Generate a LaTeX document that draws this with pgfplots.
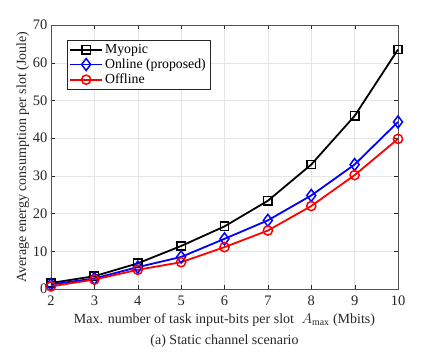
\documentclass[border=0pt]{standalone}
\usepackage{pgfplots}
\pgfplotsset{compat=1.18}
\usepackage{fontspec}
\setmainfont{Liberation Serif}
\definecolor{axgray}{RGB}{38,38,38}
\begin{document}
\begin{tikzpicture}
\begin{axis}[
  scale only axis,
  width=347pt, height=264pt,
  xmin=2, xmax=10, ymin=0, ymax=70,
  xtick={2,...,10}, ytick={0,10,...,70},
  grid=major,
  major grid style={gray!20},
  tick align=inside,
  axis line style={axgray!80},
  tick style={axgray},
  ticklabel style={font=\fontsize{14.5}{16}\selectfont, text=axgray},
  xticklabel style={yshift=-3pt},
  /pgf/number format/assume math mode=true,
  label style={font=\fontsize{14}{16}\selectfont, text=axgray},
  xlabel={Max. number of task input-bits per slot $\;A_{\max}$ (Mbits)\\[5pt](a) Static channel scenario},
  xlabel style={align=center, yshift=-1pt},
  ylabel={Average energy consumption per slot (Joule)},
  ylabel style={yshift=-3pt},
  legend cell align=left,
  legend style={at={(0.046,0.943)}, anchor=north west, draw=axgray, line width=0.6pt,
    font=\fontsize{13.8}{15}\selectfont, inner sep=2pt, row sep=0pt},
  legend image code/.code={\draw[mark repeat=2,mark phase=2] plot coordinates {(0pt,0pt) (16pt,0pt) (32pt,0pt)};},
  every axis plot/.append style={line width=1.8pt},
  clip=false,
]
\addplot[black, mark=square, mark size=4.2pt, mark options={solid, line width=1.5pt}]
  coordinates {(2,1.6) (3,3.4) (4,6.8) (5,11.4) (6,16.6) (7,23.4) (8,33.0) (9,45.9) (10,63.5)};
\addplot[blue, mark=diamond, mark size=6pt, mark options={solid, line width=1.5pt}]
  coordinates {(2,1.2) (3,2.8) (4,5.8) (5,8.5) (6,13.3) (7,18.2) (8,24.8) (9,33.0) (10,44.3)};
\addplot[red, mark=o, mark size=4.6pt, mark options={solid, line width=1.5pt}]
  coordinates {(2,0.7) (3,2.5) (4,5.1) (5,7.1) (6,11.1) (7,15.5) (8,22.0) (9,30.2) (10,39.8)};
\legend{Myopic, Online (proposed), Offline}
\coordinate (sw) at (rel axis cs:0,0);
\end{axis}
\path[use as bounding box] ([shift={(-51pt,-68pt)}]sw) rectangle ([shift={(385pt,289pt)}]sw);
\end{tikzpicture}
\end{document}
